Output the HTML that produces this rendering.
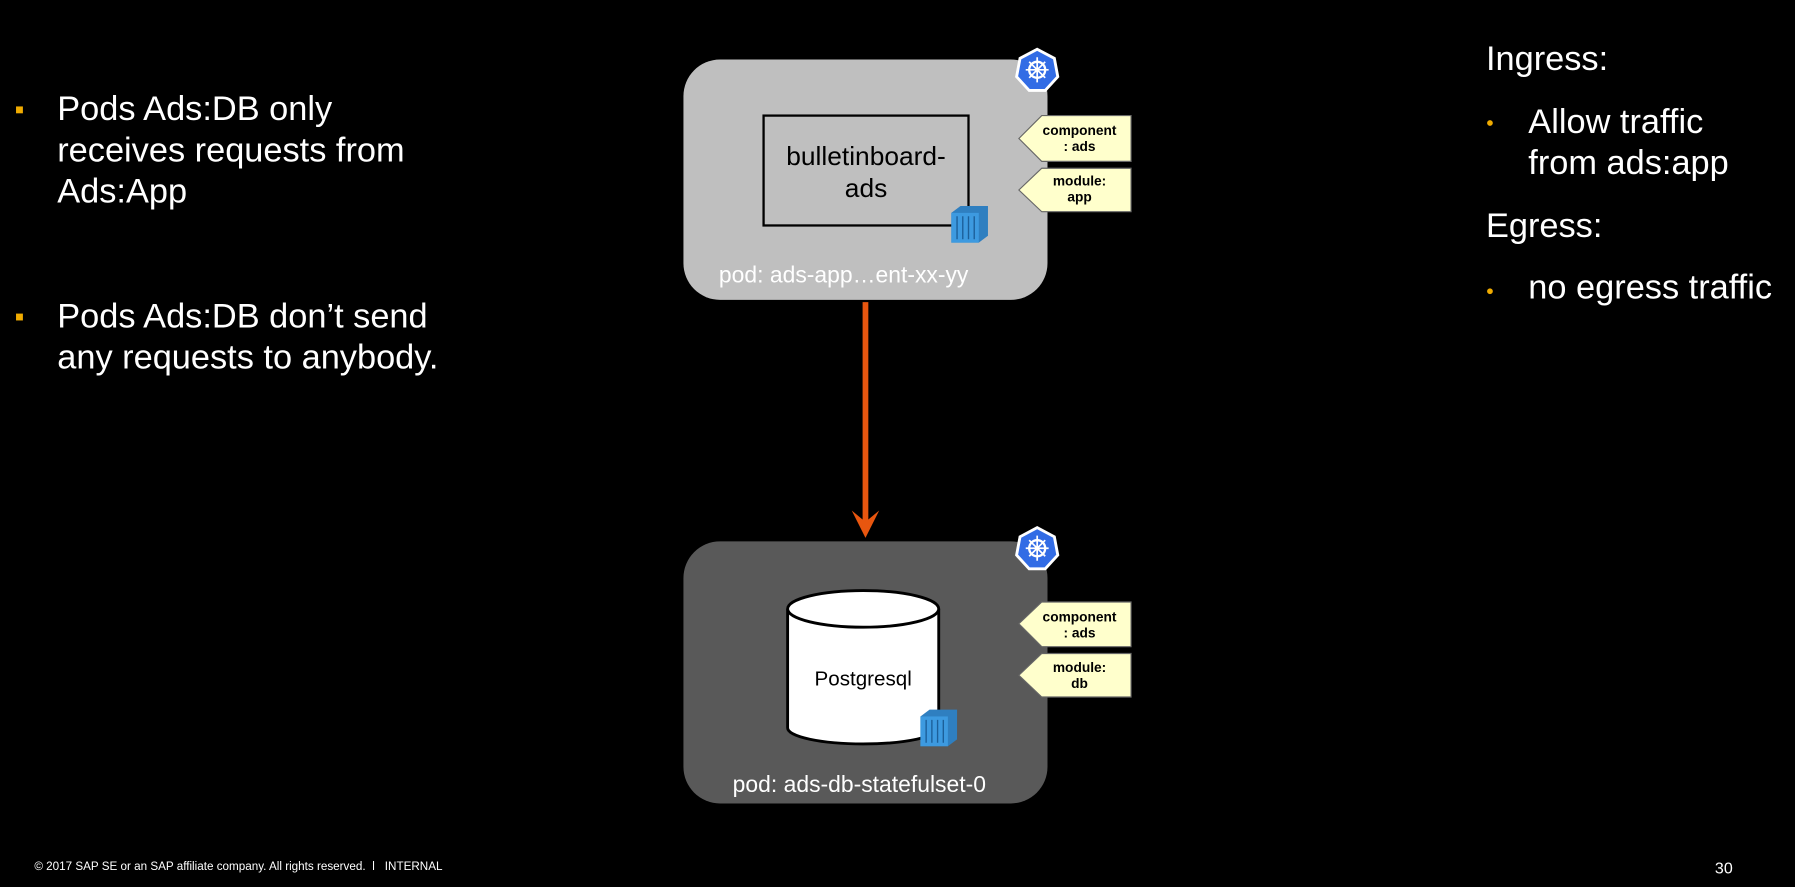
<!DOCTYPE html>
<html><head><meta charset="utf-8"><style>
html,body{margin:0;padding:0;background:#000;overflow:hidden}
#w{width:1568px;height:775px;position:relative;transform:scale(1.1448,1.1445);transform-origin:0 0;font-family:"Liberation Sans",sans-serif;color:#fff}
.a{position:absolute;white-space:nowrap}
.big{font-size:30px;line-height:36px}
.sq{position:absolute;width:6px;height:6px;background:#f0ab00}
.dot{position:absolute;width:5px;height:5px;border-radius:50%;background:#f0ab00}
.pod{position:absolute;left:597px;width:318px;border-radius:32px}
</style></head><body><div id="w">
<div class="sq" style="left:14px;top:93px"></div>
<div class="a big" style="left:50px;top:78px">Pods Ads:DB only<br>receives requests from<br>Ads:App</div>
<div class="sq" style="left:14px;top:274px"></div>
<div class="a big" style="left:50px;top:259px">Pods Ads:DB don’t send<br>any requests to anybody.</div>

<div class="a big" style="left:1298px;top:34px">Ingress:</div>
<div class="dot" style="left:1299px;top:105px"></div>
<div class="a big" style="left:1335px;top:89px">Allow traffic<br>from ads:app</div>
<div class="a big" style="left:1298px;top:180px">Egress:</div>
<div class="dot" style="left:1299px;top:252px"></div>
<div class="a big" style="left:1335px;top:234px">no egress traffic</div>

<div class="pod" style="top:52px;height:210px;background:#bfbfbf"></div>
<div class="a" style="left:666px;top:100px;width:177px;border:2px solid #000;text-align:center;color:#000;font-size:23px;line-height:28px;padding-top:20px;height:74px">bulletinboard-<br>ads</div>
<div class="a" style="left:628px;top:230px;font-size:20px">pod: ads-app…ent-xx-yy</div>

<div class="pod" style="top:473px;height:229px;background:#595959"></div>
<div class="a" style="left:640px;top:675px;font-size:20px">pod: ads-db-statefulset-0</div>

<svg class="a" style="left:0;top:0" width="1568" height="775">
<line x1="756" y1="264" x2="756" y2="458" stroke="#e8560f" stroke-width="5"/>
<polygon points="744,446 756,470 768,446 756,456" fill="#e8560f"/>
<path d="M688,532 L688,636 A66,14 0 0 0 820,636 L820,532" fill="#fff" stroke="#000" stroke-width="2.5"/>
<ellipse cx="754" cy="532" rx="66" ry="16" fill="#fff" stroke="#000" stroke-width="2.5"/>
<text x="754" y="599" text-anchor="middle" font-size="18" fill="#000" font-family="Liberation Sans">Postgresql</text>
<g fill="#ffffcc" stroke="#666" stroke-width="1">
<polygon points="890,121 910,101 988,101 988,141 910,141"/>
<polygon points="890,166 910,147 988,147 988,185 910,185"/>
<polygon points="890,545 910,526 988,526 988,565 910,565"/>
<polygon points="890,590 910,571 988,571 988,609 910,609"/>
</g>
<g font-family="Liberation Sans" font-weight="bold" font-size="12" fill="#000" text-anchor="middle">
<text x="943" y="118">component</text><text x="943" y="132">: ads</text>
<text x="943" y="162">module:</text><text x="943" y="176">app</text>
<text x="943" y="543">component</text><text x="943" y="557">: ads</text>
<text x="943" y="587">module:</text><text x="943" y="601">db</text>
</g>
<g>
<polygon points="906,43 921,51 924,67 913,79 899,79 888,67 891,51" fill="#326ce5" stroke="#fff" stroke-width="2.5"/>
<circle cx="906" cy="61" r="7" fill="none" stroke="#fff" stroke-width="2"/>
<path d="M906,50v22M896,61h20M899,54l14,14M913,54l-14,14" stroke="#fff" stroke-width="1.5"/>
</g>
<g transform="translate(0,418)">
<polygon points="906,43 921,51 924,67 913,79 899,79 888,67 891,51" fill="#326ce5" stroke="#fff" stroke-width="2.5"/>
<circle cx="906" cy="61" r="7" fill="none" stroke="#fff" stroke-width="2"/>
<path d="M906,50v22M896,61h20M899,54l14,14M913,54l-14,14" stroke="#fff" stroke-width="1.5"/>
</g>
<g transform="translate(831,180)">
<polygon points="0,6 8,0 32,0 32,26 24,32 0,32" fill="#2f7fc0"/>
<rect x="0" y="6" width="24" height="26" fill="#3d9ae0"/>
<path d="M5,9v20M10,9v20M15,9v20M20,9v20" stroke="#1c5f99" stroke-width="1.2"/>
</g>
<g transform="translate(804,620)">
<polygon points="0,6 8,0 32,0 32,26 24,32 0,32" fill="#2f7fc0"/>
<rect x="0" y="6" width="24" height="26" fill="#3d9ae0"/>
<path d="M5,9v20M10,9v20M15,9v20M20,9v20" stroke="#1c5f99" stroke-width="1.2"/>
</g>
</svg>

<div class="a" style="left:30px;top:752px;font-size:10.2px">© 2017 SAP SE or an SAP affiliate company. All rights reserved.&nbsp;&nbsp;ǀ&nbsp;&nbsp;&nbsp;INTERNAL</div>
<div class="a" style="left:1498px;top:750px;font-size:14px">30</div>
</div></body></html>
